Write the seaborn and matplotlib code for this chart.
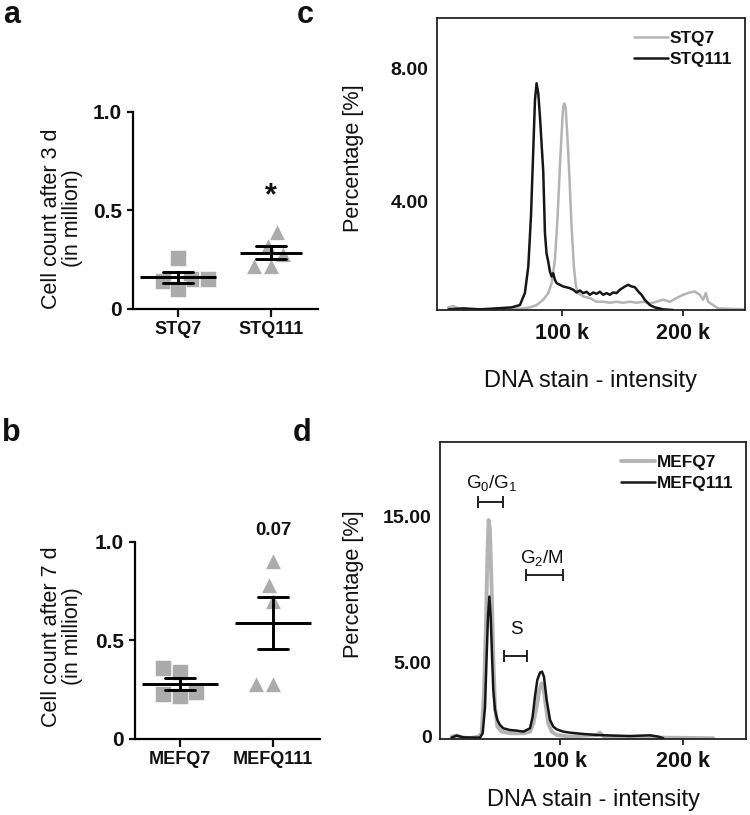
import pandas as pd
import matplotlib
matplotlib.use('Agg')
import matplotlib.pyplot as plt
import seaborn as sns

# ---- panel a / b : cell counts (million) ----
stq_groups = ['STQ7', 'STQ111']
stq7_counts = [0.26, 0.15, 0.14, 0.10, 0.15]
stq111_counts = [0.39, 0.32, 0.28, 0.22, 0.22]

mef_groups = ['MEFQ7', 'MEFQ111']
mefq7_counts = [0.36, 0.34, 0.24, 0.23, 0.22]
mefq111_counts = [0.90, 0.78, 0.70, 0.28, 0.28]

# ---- panel c : DNA histograms STQ (x in k, y in %) ----
stq7_dna_k = [6.8, 11.0, 15.1, 19.2, 46.6, 68.5, 74.0, 79.4, 84.9, 89.0, 91.8, 94.5, 96.7, 98.6, 100.0,
              101.3, 102.2, 103.3, 104.6, 106.3, 108.2, 110.1, 111.8, 113.7, 117.8, 123.3, 128.7, 134.2,
              139.7, 145.2, 150.6, 156.1, 161.6, 167.1, 172.6, 178.0, 183.5, 189.0, 194.5, 199.9, 205.4,
              209.5, 213.6, 216.4, 218.6, 220.5, 224.6, 228.7, 250.6]
stq7_pct = [0.80, 0.84, 0.77, 0.74, 0.74, 0.77, 0.80, 0.87, 1.03, 1.23, 1.53, 2.23, 3.54, 5.04, 6.05,
            6.85, 6.95, 6.85, 6.05, 4.84, 3.24, 2.03, 1.43, 1.23, 1.13, 1.08, 0.97, 0.97, 0.94, 0.97,
            0.94, 0.97, 0.94, 0.97, 0.92, 0.97, 1.03, 0.97, 1.08, 1.18, 1.25, 1.28, 1.18, 1.03, 1.23,
            0.97, 0.87, 0.77, 0.74]
stq111_dna_k = [6.8, 19.2, 32.9, 46.6, 58.9, 65.7, 69.8, 72.6, 74.8, 76.7, 78.1, 79.4, 80.8, 82.2, 84.9,
                86.3, 87.6, 89.0, 90.4, 91.8, 93.1, 94.5, 95.9, 98.6, 101.3, 106.8, 109.6, 112.3, 115.0,
                117.8, 120.5, 123.3, 126.0, 128.7, 131.5, 134.2, 137.0, 139.7, 142.4, 145.2, 147.9, 152.0,
                154.8, 157.5, 160.2, 163.0, 165.7, 168.4, 172.6, 176.7, 183.5, 191.7]
stq111_pct = [0.74, 0.77, 0.74, 0.77, 0.80, 0.87, 1.23, 2.03, 3.54, 5.55, 7.05, 7.56, 7.26, 6.55, 4.90,
              3.04, 2.43, 2.18, 1.88, 1.73, 1.83, 1.63, 1.53, 1.48, 1.43, 1.38, 1.33, 1.25, 1.31, 1.23,
              1.27, 1.18, 1.25, 1.21, 1.27, 1.18, 1.23, 1.18, 1.25, 1.23, 1.33, 1.43, 1.48, 1.43, 1.41,
              1.28, 1.18, 1.03, 0.87, 0.80, 0.74, 0.72]

# ---- panel d : DNA histograms MEF ----
mefq7_dna_k = [12.1, 16.2, 20.3, 27.0, 33.8, 36.5, 38.4, 40.0, 41.1, 42.1, 43.2, 44.6, 45.9, 47.3, 49.2,
               52.7, 59.4, 70.3, 75.7, 78.4, 81.1, 83.2, 85.1, 86.5, 88.6, 90.5, 93.2, 97.3, 108.1, 129.7,
               132.4, 135.1, 156.8, 183.8, 224.4]
mefq7_pct = [-0.04, 0.03, -0.09, -0.15, -0.04, 0.19, 3.14, 7.70, 12.25, 14.75, 14.07, 9.97, 5.42, 2.01, 0.64,
             0.30, 0.19, 0.19, 0.30, 0.87, 2.01, 3.14, 3.60, 3.37, 2.01, 0.87, 0.30, 0.07, -0.04, 0.07,
             0.23, 0.00, -0.09, -0.11, -0.15]
mefq111_dna_k = [12.1, 16.2, 21.6, 35.1, 37.3, 39.2, 40.5, 41.6, 42.7, 43.8, 44.9, 45.9, 47.3, 49.2, 51.3,
                 54.0, 59.4, 64.9, 70.3, 75.7, 77.8, 79.7, 81.6, 83.8, 85.4, 87.0, 89.2, 91.9, 94.6, 97.3,
                 102.7, 108.1, 118.9, 129.7, 143.3, 156.8, 173.0, 179.8, 183.8]
mefq111_pct = [-0.11, 0.03, -0.09, -0.11, 0.19, 2.01, 5.42, 8.15, 9.52, 8.15, 5.42, 3.14, 1.78, 1.10, 0.76,
               0.53, 0.41, 0.37, 0.30, 0.53, 1.32, 2.69, 3.83, 4.33, 4.40, 4.05, 2.46, 1.10, 0.64, 0.46,
               0.30, 0.23, 0.14, 0.07, 0.03, 0.00, 0.05, -0.04, -0.15]

# cell cycle gates (k) and their heights (%)
gate_names = ['G$_0$/G$_1$', 'S', 'G$_2$/M']
gate_lo = [33.3, 54.6, 72.4]
gate_hi = [54.0, 73.0, 102.7]
gate_level = [16.0, 5.47, 11.0]
gate_text_level = [17.27, 7.24, 12.15]
gate_text_x = [44.6, 64.9, 85.2]

GREY_PT = '#ababab'
GREY_LN = '#b4b4b4'
BLACK = '#161616'

sns.set_style('ticks')
plt.rcParams['font.family'] = ['Liberation Sans', 'DejaVu Sans']
plt.rcParams['mathtext.default'] = 'regular'
for key in ['text.color', 'axes.labelcolor', 'xtick.color', 'ytick.color']:
    plt.rcParams[key] = '#111111'

fig = plt.figure(figsize=(7.5, 8.15), dpi=100)


def count_panel(rect, groups, vals_a, vals_b, mean_w, ylabel, note, note_y, note_size, lab_xy):
    ax = fig.add_axes(rect)
    df = pd.DataFrame({'group': [groups[0]] * len(vals_a) + [groups[1]] * len(vals_b),
                       'count': vals_a + vals_b})
    for g, mk in zip(groups, ['s', '^']):
        sns.swarmplot(data=df[df['group'] == g], x='group', y='count', order=groups,
                      marker=mk, size=11.3, color=GREY_PT, edgecolor='white', linewidth=0.4,
                      zorder=1, ax=ax)
    for g, w in zip(groups, mean_w):
        sns.pointplot(data=df[df['group'] == g], x='group', y='count', order=groups,
                      errorbar='se', capsize=0.32, color='black', markers='_',
                      linestyles='none', markersize=w, markeredgewidth=2.1, zorder=6,
                      err_kws={'linewidth': 2.1, 'zorder': 6}, ax=ax)
    ax.set_xlim(-0.48, 1.5)
    ax.set_ylim(0, 1.0)
    ax.set_yticks([0, 0.5, 1.0])
    ax.set_yticklabels(['0', '0.5', '1.0'])
    sns.despine(ax=ax)
    for s in ['left', 'bottom']:
        ax.spines[s].set_linewidth(1.6)
        ax.spines[s].set_color('black')
    ax.tick_params(axis='y', length=4.5, width=1.6, pad=3.5, labelsize=15)
    ax.tick_params(axis='x', length=5.5, width=1.6, pad=3, labelsize=13)
    for t in ax.get_xticklabels() + ax.get_yticklabels():
        t.set_fontweight('bold')
    ax.set_xlabel('')
    ax.set_ylabel(ylabel, fontsize=15.5, va='center', linespacing=1.0)
    ax.yaxis.set_label_coords(*lab_xy)
    ax.text(1, note_y, note, ha='center', va='center', fontsize=note_size,
            fontweight='bold', clip_on=False)
    return ax


def hist_panel(rect, curves, xlim, ylim, yticks, yticklabels, lab_xy, xlab_y):
    ax = fig.add_axes(rect)
    for xs, ys, col, lw, name in curves:
        sns.lineplot(x=xs, y=ys, color=col, linewidth=lw, label=name, estimator=None,
                     sort=False, ax=ax)
    ax.set_xlim(*xlim)
    ax.set_ylim(*ylim)
    ax.set_xticks([100, 200])
    ax.set_xticklabels(['100 k', '200 k'])
    ax.set_yticks(yticks)
    ax.set_yticklabels(yticklabels)
    for s in ax.spines.values():
        s.set_linewidth(1.3)
        s.set_color('#222222')
    ax.tick_params(axis='y', length=0, pad=6, labelsize=14)
    ax.tick_params(axis='x', length=4, width=1.2, pad=5, labelsize=15.5)
    for t in ax.get_xticklabels() + ax.get_yticklabels():
        t.set_fontweight('bold')
    ax.set_ylabel('Percentage [%]', fontsize=15.6, va='center')
    ax.yaxis.set_label_coords(*lab_xy)
    ax.set_xlabel('DNA stain - intensity', fontsize=17, va='center')
    ax.xaxis.set_label_coords(0.5, xlab_y)
    leg = ax.legend(loc='upper right', frameon=False, fontsize=12.4, handlelength=1.95,
                    handletextpad=0.1, labelspacing=0.35, borderaxespad=0.35)
    for t in leg.get_texts():
        t.set_fontweight('bold')
    return ax


count_panel([0.1773, 0.6209, 0.2467, 0.2417], stq_groups, stq7_counts, stq111_counts, [55, 44],
            'Cell count after 3 d\n(in million)', '*', 0.57, 22, (-0.384, 0.46))
count_panel([0.18, 0.0933, 0.2467, 0.2421], mef_groups, mefq7_counts, mefq111_counts, [55, 55],
            'Cell count after 7 d\n(in million)', '0.07', 1.055, 13.5, (-0.395, 0.52))

hist_panel([0.5823, 0.6196, 0.411, 0.358],
           [(stq7_dna_k, stq7_pct, GREY_LN, 1.8, 'STQ7'),
            (stq111_dna_k, stq111_pct, BLACK, 1.8, 'STQ111')],
           (-2.7, 250.8), (0.72, 9.52), [4, 8], ['4.00', '8.00'], (-0.271, 0.52), -0.243)

axd = hist_panel([0.5867, 0.0933, 0.408, 0.3648],
                 [(mefq7_dna_k, mefq7_pct, GREY_LN, 2.8, 'MEFQ7'),
                  (mefq111_dna_k, mefq111_pct, BLACK, 1.8, 'MEFQ111')],
                 (2.7, 250.9), (-0.2, 20.1), [0, 5, 15], ['0', '5.00', '15.00'], (-0.284, 0.52), -0.205)

# gate brackets
for name, lo, hi, lev, tx, ty in zip(gate_names, gate_lo, gate_hi, gate_level,
                                     gate_text_x, gate_text_level):
    axd.errorbar((lo + hi) / 2, lev, xerr=(hi - lo) / 2, color='#222222', linewidth=1.4,
                 capsize=4, capthick=1.4)
    axd.text(tx, ty, name, ha='center', va='center', fontsize=13.5)

# panel letters
for letter, x, y in [('a', 0.004, 1.0), ('c', 0.395, 1.0), ('b', 0.002, 0.4871), ('d', 0.391, 0.4871)]:
    fig.text(x, y, letter, fontsize=22, fontweight='bold', va='top')

plt.savefig('out.png', dpi=100)
